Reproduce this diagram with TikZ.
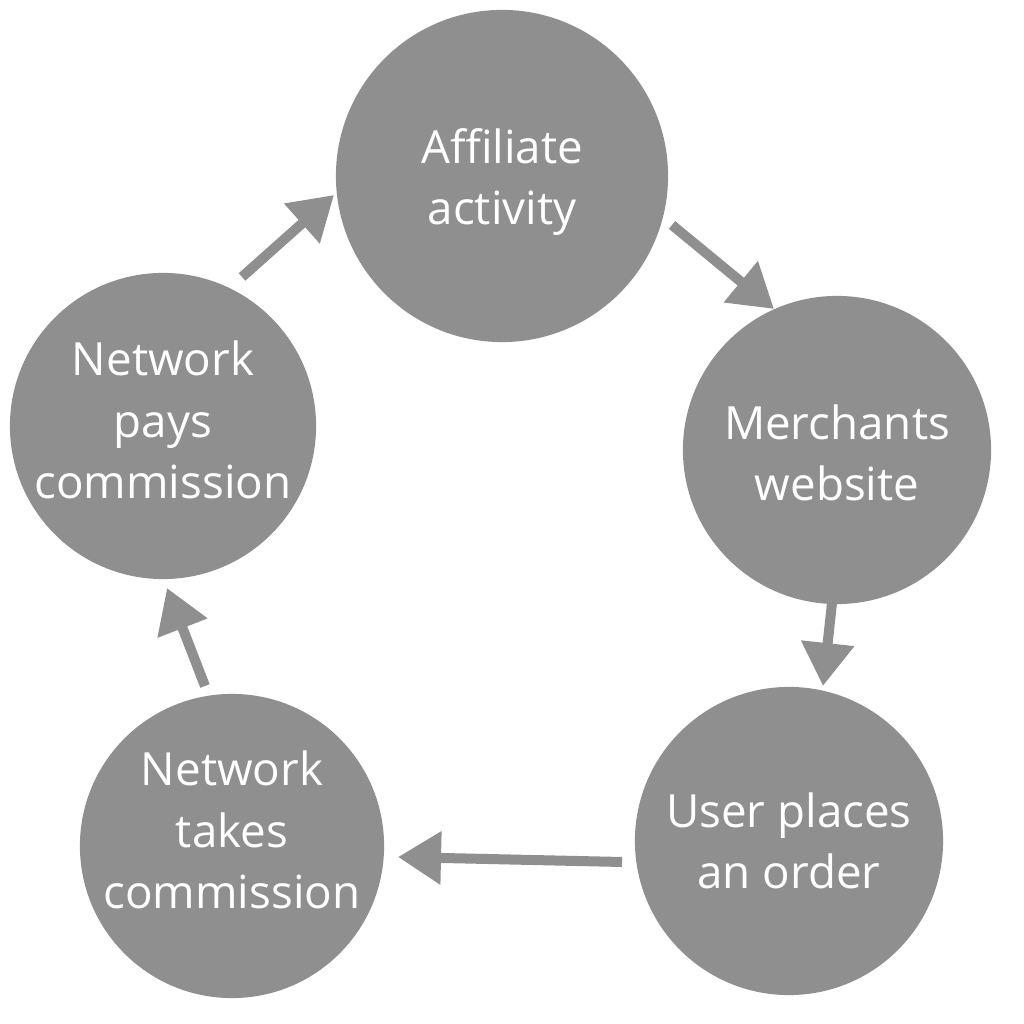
\documentclass[tikz,border=0pt]{standalone}
\usepackage{fontspec}
\setmainfont{Open Sans}
\usepackage{tikz}
\usetikzlibrary{arrows.meta,positioning}
\definecolor{stepgrey}{RGB}{143,143,143}
\tikzstyle{stage}=[circle, fill=stepgrey, inner sep=0pt]
\tikzstyle{stagetext}=[text=white, align=center, inner sep=0pt]
\tikzstyle{flow}=[draw=stepgrey, line width=0.1cm, -{Triangle[length=0.43cm,width=0.51cm]}, stepgrey]
\def\ux{0.01cm}
\def\uy{0.01cm}

\begin{document}
\begin{tikzpicture}[x=\ux,y=\uy, font=\fontsize{13}{17.5}\selectfont]
		\useasboundingbox (0,0) rectangle (1024,1024);
		\node[stage, minimum size=3.32cm, label={[stagetext, yshift=-0.06cm]center:{Affiliate\\activity}}] (affiliate) at (502,848) {};
		\node[stage, minimum size=3.08cm, label={[stagetext, yshift=-0.03cm]center:{Merchants\\website}}] (merchant) at (837,574) {};
		\node[stage, minimum size=3.08cm, label={[stagetext]center:{User places\\an order}}] (order) at (789,183) {};
		\node[stage, minimum size=3.04cm, label={[stagetext, yshift=0.16cm]center:{Network\\takes\\commission}}] (takes) at (232,178) {};
		\node[stage, minimum size=3.06cm, label={[stagetext, yshift=0.06cm]center:{Network\\pays\\commission}}] (pays) at (163,598) {};

		% arrow ends
		\coordinate (p1) at (242,747);  \coordinate (q1) at (334,829);
		\coordinate (p2) at (672,799);  \coordinate (q2) at (774,715);
		\coordinate (p3) at (832,421);  \coordinate (q3) at (823,338);
		\coordinate (p4) at (622,162);  \coordinate (q4) at (398,167);
		\coordinate (p5) at (205,338);  \coordinate (q5) at (167,436);
		\foreach \i in {1,...,5}{
			\draw[flow] (p\i) -- (q\i);
		}
\end{tikzpicture}
\end{document}
